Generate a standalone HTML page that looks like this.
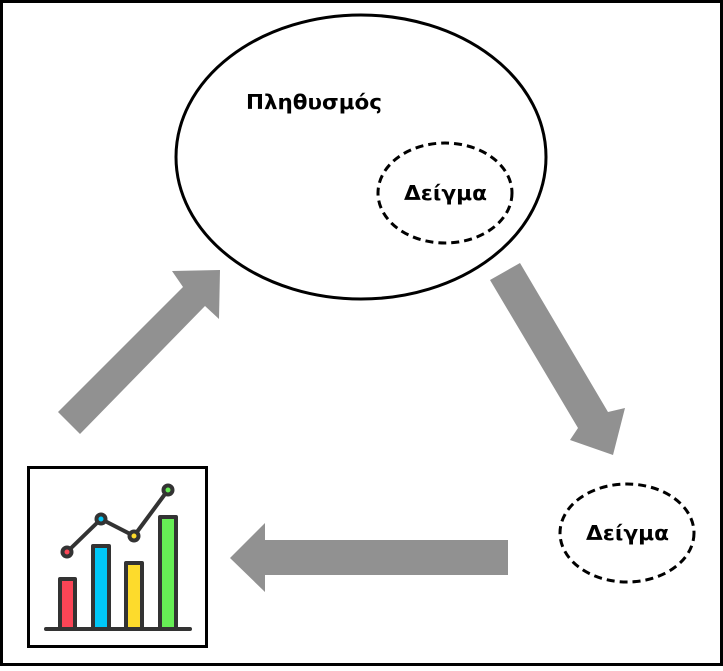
<!DOCTYPE html>
<html><head><style>body{margin:0;background:#fff}</style></head><body>
<svg width="723" height="666" xmlns="http://www.w3.org/2000/svg">
<rect x="1.5" y="1.5" width="720" height="663" fill="#fff" stroke="#000" stroke-width="3"/>
<ellipse cx="361" cy="157" rx="185" ry="142" fill="none" stroke="#000" stroke-width="3"/>
<ellipse cx="445" cy="193" rx="67" ry="50" fill="none" stroke="#000" stroke-width="3" stroke-dasharray="8,5"/>
<ellipse cx="627" cy="533" rx="67" ry="49" fill="none" stroke="#000" stroke-width="3" stroke-dasharray="8,5"/>
<g font-family="DejaVu Sans, Liberation Sans, sans-serif" font-weight="bold" font-size="20" fill="#000">
<text x="246" y="109" textLength="136" lengthAdjust="spacingAndGlyphs">Πληθυσμός</text>
<text x="404" y="200" textLength="83" lengthAdjust="spacingAndGlyphs">Δείγμα</text>
<text x="586" y="540" textLength="83" lengthAdjust="spacingAndGlyphs">Δείγμα</text>
</g>
<g fill="#919191">
<polygon points="58,412 183,287 172,271 220,270 219,319 205,306 80,434"/>
<polygon points="490,280 520,263 608,412 625,408 613,455 570,440 578,428"/>
<polygon points="508,540 265,540 265,523 230,558 265,592 265,575 508,575"/>
</g>
<rect x="28.5" y="467.5" width="178" height="179" fill="#fff" stroke="#000" stroke-width="3"/>
<g stroke="#333" stroke-width="4" stroke-linejoin="round" stroke-linecap="round">
<rect x="60" y="579" width="15" height="50" fill="#fb4556"/>
<rect x="93" y="546" width="16" height="83" fill="#00c8f8"/>
<rect x="126" y="563" width="16" height="66" fill="#fddb2c"/>
<rect x="160" y="517" width="16" height="112" fill="#66ee55"/>
<line x1="46" y1="629" x2="190" y2="629"/>
<polyline points="67,552 101,519 134,536 168,490" fill="none"/>
<circle cx="67" cy="552" r="4.5" fill="#fb4556"/>
<circle cx="101" cy="519" r="4.5" fill="#00c8f8"/>
<circle cx="134" cy="536" r="4.5" fill="#fddb2c"/>
<circle cx="168" cy="490" r="4.5" fill="#66ee55"/>
</g>
</svg>
</body></html>
